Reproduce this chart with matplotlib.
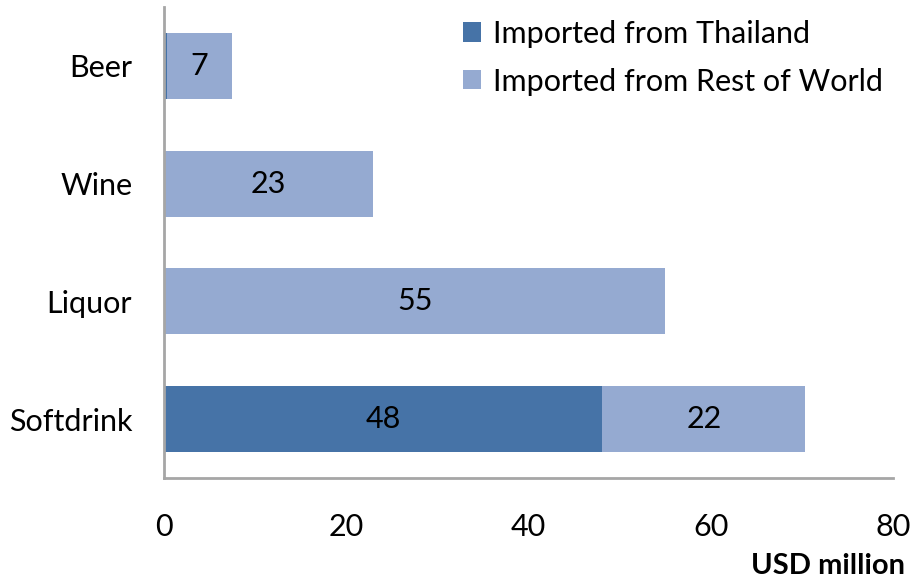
import matplotlib
matplotlib.use('Agg')
import matplotlib.pyplot as plt
import numpy as np

plt.rcParams['font.family'] = ['Lato', 'DejaVu Sans']

categories = ['Softdrink', 'Liquor', 'Wine', 'Beer']
thailand = [48.1, 0, 0, 0.3]
rest_of_world = [22.3, 55.0, 22.9, 7.2]
rest_labels = ['22', '55', '23', '7']
thai_labels = ['48', '', '', '']

dark = '#4673A7'
light = '#95AAD1'

fig = plt.figure(figsize=(9.12, 5.83), dpi=100)
ax = fig.add_axes([0.18, 0.18, 0.799, 0.808])

y = np.arange(len(categories))
h = 0.56
ax.barh(y, thailand, height=h, color=dark, label='Imported from Thailand')
ax.barh(y, rest_of_world, height=h, left=thailand, color=light,
        label='Imported from Rest of World')

for i in range(len(categories)):
    if thai_labels[i]:
        ax.text(thailand[i] / 2, y[i], thai_labels[i], ha='center', va='center', fontsize=22)
    ax.text(thailand[i] + rest_of_world[i] / 2, y[i], rest_labels[i],
            ha='center', va='center', fontsize=22)

ax.set_xlim(0, 80)
ax.set_ylim(-0.5, 3.5)
ax.set_yticks(y)
ax.set_yticklabels(categories)
ax.set_xticks([0, 20, 40, 60, 80])
ax.tick_params(axis='both', length=0, labelsize=22)
ax.tick_params(axis='y', pad=23)
ax.tick_params(axis='x', pad=25)

for s in ['top', 'right']:
    ax.spines[s].set_visible(False)
for s in ['left', 'bottom']:
    ax.spines[s].set_color('#A6A6A6')
    ax.spines[s].set_linewidth(2)

ax.legend(loc='upper right', bbox_to_anchor=(1.012, 1.012), frameon=False,
          fontsize=22, handlelength=0.6, handleheight=0.6,
          handletextpad=0.4, labelspacing=0.65, borderaxespad=0.2)

fig.text(0.992, 0.03, 'USD million', ha='right', va='center', fontsize=21,
         fontweight='bold')

fig.savefig('out.png', dpi=100)
